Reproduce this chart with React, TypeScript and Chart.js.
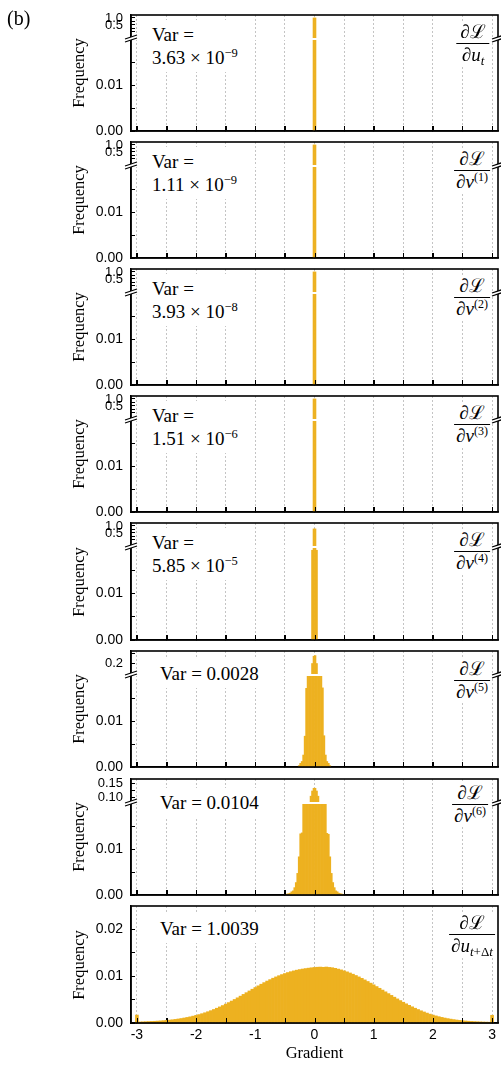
import React, { useEffect, useRef } from 'react';
import { Chart, registerables } from 'chart.js';

Chart.register(...registerables);

const SANS = "'Liberation Sans', Arial, sans-serif";
const SERIF = "'Liberation Serif', 'Times New Roman', serif";
const MATH = "'Liberation Serif', 'DejaVu Serif', serif";
const BAR_COLOR = '#EDB120';
const GRID_COLOR = '#c4c4c4';

// ---------- x axis ----------
const X_MIN = -3.1;
const X_MAX = 3.1;
const X_TICKS = [-3, -2.5, -2, -1.5, -1, -0.5, 0, 0.5, 1, 1.5, 2, 2.5, 3];
const X_TICK_LABELS = ['-3', '', '-2', '', '-1', '', '0', '', '1', '', '2', '', '3'];

// ---------- y axes ----------
const LOWER_MAX_BROKEN = 0.02;
const LOWER_TICKS_BROKEN = [0, 0.005, 0.01, 0.015];
const LOWER_LABELS_BROKEN = ['0.00', '', '0.01', ''];
const LOWER_MAX_FULL = 0.025;
const LOWER_TICKS_FULL = [0, 0.005, 0.01, 0.015, 0.02];
const LOWER_LABELS_FULL = ['0.00', '', '0.01', '', '0.02'];

const UPPER_A_RANGE = [-0.5, 1.21];
const UPPER_A_TICKS = [0, 0.25, 0.5, 0.75, 1.0];
const UPPER_A_LABELS = ['', '', '0.5', '', '1.0'];
const UPPER_B_RANGE = [0.145, 0.26];
const UPPER_B_TICKS = [0.2, 0.25];
const UPPER_B_LABELS = ['0.2', ''];
const UPPER_C_RANGE = [0.08, 0.168];
const UPPER_C_TICKS = [0.1, 0.125, 0.15];
const UPPER_C_LABELS = ['0.10', '', '0.15'];

// ---------- histogram data (bin start + bin width + frequencies) ----------
const FINE_BIN = 0.025;
const P1_START = -0.025;
const P1_FREQ = [1.0, 1.0];
const P2_START = -0.025;
const P2_FREQ = [1.0, 1.0];
const P3_START = -0.025;
const P3_FREQ = [1.0, 1.0];
const P4_START = -0.025;
const P4_FREQ = [1.0, 1.0];
const P5_START = -0.05;
const P5_FREQ = [0.0193, 0.79, 0.79, 0.0193];
const P6_START = -0.275;
const P6_FREQ = [
  0.0003, 0.0008, 0.0012, 0.0026, 0.0067, 0.0171, 0.045, 0.07, 0.125, 0.2, 0.235,
  0.238, 0.2, 0.125, 0.07, 0.045, 0.0172, 0.0068, 0.0026, 0.0012, 0.0008, 0.0003,
];
const P7_START = -0.5;
const P7_FREQ = [
  0.0001, 0.0002, 0.0003, 0.0004, 0.0007, 0.0009, 0.0016, 0.0027, 0.0047, 0.0083,
  0.0133, 0.0135, 0.024, 0.032, 0.042, 0.055, 0.07, 0.105, 0.124, 0.134,
  0.134, 0.124, 0.105, 0.07, 0.055, 0.042, 0.032, 0.024, 0.0134, 0.0132,
  0.0083, 0.0047, 0.0027, 0.0016, 0.0009, 0.0007, 0.0004, 0.0003, 0.0002, 0.0001,
];
const P8_BIN = 0.05;
const P8_START = -3.025;
const P8_FREQ = [
  0.0017, 0.00022, 0.00025, 0.00028, 0.00031, 0.00034, 0.00037, 0.00041, 0.00045, 0.0005,
  0.00056, 0.00062, 0.00069, 0.00077, 0.00086, 0.00096, 0.00107, 0.00119, 0.00132, 0.00147,
  0.00163, 0.0018, 0.00199, 0.00219, 0.00241, 0.00264, 0.00289, 0.00316, 0.00344, 0.00373,
  0.00404, 0.00436, 0.00469, 0.00503, 0.00538, 0.00574, 0.00611, 0.00648, 0.00685, 0.00722,
  0.00758, 0.00794, 0.00829, 0.00863, 0.00896, 0.00927, 0.00957, 0.00985, 0.01011, 0.01035,
  0.01057, 0.01078, 0.01097, 0.01114, 0.01129, 0.01142, 0.01153, 0.01163, 0.01172, 0.0118,
  0.01187,
  0.01192, 0.01195, 0.0119, 0.01196, 0.01188, 0.01181, 0.01168, 0.01152, 0.01135, 0.01115,
  0.01093, 0.01069, 0.01043, 0.01015, 0.00985, 0.00954, 0.00921, 0.00887, 0.00852, 0.00816,
  0.00779, 0.00742, 0.00704, 0.00666, 0.00628, 0.0059, 0.00552, 0.00515, 0.00479, 0.00444,
  0.0041, 0.00377, 0.00346, 0.00316, 0.00288, 0.00261, 0.00236, 0.00212, 0.0019, 0.0017,
  0.00152, 0.00135, 0.0012, 0.00106, 0.00094, 0.00083, 0.00073, 0.00064, 0.00056, 0.00049,
  0.00043, 0.00038, 0.00034, 0.0003, 0.00027, 0.00024, 0.00021, 0.00019, 0.00017, 0.00165,
];

// ---------- annotation text ----------
const VAR_MANTISSA = ['3.63', '1.11', '3.93', '1.51', '5.85'];
const VAR_EXPONENT = ['−9', '−9', '−8', '−6', '−5'];
const VAR_PLAIN = ['0.0028', '0.0104', '1.0039'];
const DERIV_VAR = ['u', 'v', 'v', 'v', 'v', 'v', 'v', 'u'];
const DERIV_SUB = ['t', '', '', '', '', '', '', 't+Δt'];
const DERIV_SUP = ['', '(1)', '(2)', '(3)', '(4)', '(5)', '(6)', ''];

// ---------- layout ----------
const PLOT_TOP = [15, 142, 269, 396, 523, 651, 779, 906];
const PLOT_BOTTOM = [131, 258, 385, 512, 640, 767, 895, 1023];
const FRAC_BAR_OFFSET = [28, 28, 28, 28, 28, 29, 24.5, 28];
const FRAC_CENTER_X = [473, 472, 472, 472, 472, 472, 470, 472];
const UPPER_H = 24;
const AXIS_W = 131;
const PAGE_W = 501;
const PAGE_H = 1067;

type Upper = { range: number[]; ticks: number[]; labels: string[] };
type PanelDef = {
  start: number;
  bin: number;
  freq: number[];
  lowerMax: number;
  lowerTicks: number[];
  lowerLabels: string[];
  upper?: Upper;
  showX: boolean;
};

const UA: Upper = { range: UPPER_A_RANGE, ticks: UPPER_A_TICKS, labels: UPPER_A_LABELS };
const UB: Upper = { range: UPPER_B_RANGE, ticks: UPPER_B_TICKS, labels: UPPER_B_LABELS };
const UC: Upper = { range: UPPER_C_RANGE, ticks: UPPER_C_TICKS, labels: UPPER_C_LABELS };

const broken = (start: number, freq: number[], upper: Upper): PanelDef => ({
  start, bin: FINE_BIN, freq, lowerMax: LOWER_MAX_BROKEN,
  lowerTicks: LOWER_TICKS_BROKEN, lowerLabels: LOWER_LABELS_BROKEN, upper, showX: false,
});

const PANELS: PanelDef[] = [
  broken(P1_START, P1_FREQ, UA),
  broken(P2_START, P2_FREQ, UA),
  broken(P3_START, P3_FREQ, UA),
  broken(P4_START, P4_FREQ, UA),
  broken(P5_START, P5_FREQ, UA),
  broken(P6_START, P6_FREQ, UB),
  broken(P7_START, P7_FREQ, UC),
  {
    start: P8_START, bin: P8_BIN, freq: P8_FREQ, lowerMax: LOWER_MAX_FULL,
    lowerTicks: LOWER_TICKS_FULL, lowerLabels: LOWER_LABELS_FULL, showX: true,
  },
];

const lookup = (ticks: number[], labels: string[]) => (v: any) => {
  const i = ticks.findIndex((t) => Math.abs(t - Number(v)) < 1e-9);
  return i >= 0 ? labels[i] : '';
};

const framePlugin = {
  id: 'frame',
  afterDatasetsDraw(chart: any) {
    const { ctx, chartArea: a, scales } = chart;
    ctx.save();
    // tick marks on top of the bars
    const xs = scales.x;
    ctx.strokeStyle = '#000';
    ctx.lineWidth = 1;
    xs.ticks.forEach((t: any) => {
      const px = Math.round(xs.getPixelForValue(t.value)) + 0.5;
      ctx.beginPath();
      ctx.moveTo(px, a.bottom);
      ctx.lineTo(px, a.bottom - 5);
      ctx.stroke();
    });
    const up = scales.yUp;
    if (up) {
      ctx.fillStyle = '#fff';
      ctx.fillRect(a.left, up.bottom - 1, a.right - a.left, 2);
    }
    ctx.lineWidth = 1.6;
    ctx.strokeStyle = '#000';
    ctx.strokeRect(a.left, a.top, a.right - a.left, a.bottom - a.top);
    if (up) {
      const yb = up.bottom;
      [a.left, a.right].forEach((x0: number) => {
        ctx.fillStyle = '#fff';
        ctx.beginPath();
        ctx.moveTo(x0 - 6, yb + 3);
        ctx.lineTo(x0 + 6, yb - 1);
        ctx.lineTo(x0 + 6, yb - 4);
        ctx.lineTo(x0 - 6, yb);
        ctx.closePath();
        ctx.fill();
        ctx.lineWidth = 1.2;
        ctx.beginPath();
        ctx.moveTo(x0 - 6, yb + 3);
        ctx.lineTo(x0 + 6, yb - 1);
        ctx.stroke();
        ctx.beginPath();
        ctx.moveTo(x0 - 6, yb);
        ctx.lineTo(x0 + 6, yb - 4);
        ctx.stroke();
      });
    }
    ctx.restore();
  },
};

function PanelChart({ idx }: { idx: number }) {
  const ref = useRef<HTMLCanvasElement>(null);
  const def = PANELS[idx];
  const pt = PLOT_TOP[idx];
  const pb = PLOT_BOTTOM[idx];
  const top = pt - 12;
  const bottom = def.showX ? PAGE_H : pb + 4;
  const height = bottom - top;

  useEffect(() => {
    if (!ref.current) return;
    const centers = def.freq.map((_, i) => def.start + (i + 0.5) * def.bin);
    const barStyle = {
      backgroundColor: BAR_COLOR,
      borderWidth: 0,
      barPercentage: 1,
      categoryPercentage: 1,
      grouped: false,
    };
    const datasets: any[] = [
      {
        ...barStyle,
        yAxisID: 'y',
        data: centers.map((x, i) => ({ x, y: Math.min(def.freq[i], def.lowerMax) })),
      },
    ];
    const plotH = pb - pt;
    const scales: any = {
      x: {
        type: 'linear',
        min: X_MIN,
        max: X_MAX,
        offset: false,
        afterBuildTicks: (s: any) => {
          s.ticks = X_TICKS.map((v) => ({ value: v }));
        },
        afterFit: (s: any) => {
          s.height = bottom - pb;
          s.paddingLeft = 0;
          s.paddingRight = 0;
        },
        grid: {
          offset: false,
          color: GRID_COLOR,
          lineWidth: 1,
          drawTicks: true,
          tickLength: -5,
          tickColor: '#000',
          tickWidth: 1,
        },
        border: { display: true, color: '#000', width: 1.5, dash: [2, 2] },
        ticks: {
          display: def.showX,
          autoSkip: false,
          maxRotation: 0,
          padding: 9,
          color: '#000',
          font: { family: SANS, size: 14 },
          callback: lookup(X_TICKS, X_TICK_LABELS),
        },
        title: {
          display: def.showX,
          text: 'Gradient',
          color: '#000',
          font: { family: SERIF, size: 16.5 },
          padding: { top: 0, bottom: 3 },
        },
      },
      y: {
        type: 'linear',
        position: 'left',
        min: 0,
        max: def.lowerMax,
        weight: 0,
        afterBuildTicks: (s: any) => {
          s.ticks = def.lowerTicks.map((v) => ({ value: v }));
        },
        afterFit: (s: any) => {
          s.width = AXIS_W;
          s.paddingTop = 0;
          s.paddingBottom = 0;
        },
        grid: { drawOnChartArea: false, drawTicks: true, tickLength: -4, tickColor: '#000', tickWidth: 1 },
        border: { color: '#000', width: 1.5 },
        ticks: {
          autoSkip: false,
          padding: 12,
          color: '#000',
          font: { family: SANS, size: 14 },
          callback: lookup(def.lowerTicks, def.lowerLabels),
        },
      },
    };
    if (def.upper) {
      const u = def.upper;
      scales.y.stack = 'v';
      scales.y.stackWeight = plotH - UPPER_H;
      scales.yUp = {
        type: 'linear',
        position: 'left',
        stack: 'v',
        stackWeight: UPPER_H,
        weight: 1,
        min: u.range[0],
        max: u.range[1],
        afterBuildTicks: (s: any) => {
          s.ticks = u.ticks.map((v) => ({ value: v }));
        },
        afterFit: (s: any) => {
          s.width = AXIS_W;
          s.paddingTop = 0;
          s.paddingBottom = 0;
        },
        grid: { drawOnChartArea: false, drawTicks: true, tickLength: -4, tickColor: '#000', tickWidth: 1 },
        border: { color: '#000', width: 1.5 },
        ticks: {
          autoSkip: false,
          padding: 12,
          color: '#000',
          font: { family: SANS, size: 13 },
          callback: lookup(u.ticks, u.labels),
        },
      };
      datasets.push({
        ...barStyle,
        yAxisID: 'yUp',
        data: centers
          .map((x, i) => ({ x, y: [u.range[0], def.freq[i]] }))
          .filter((_, i) => def.freq[i] > u.range[0] && def.freq[i] > def.lowerMax),
      });
    }

    const chart = new Chart(ref.current, {
      type: 'bar',
      data: { datasets },
      options: {
        animation: false,
        responsive: false,
        devicePixelRatio: 1,
        layout: { padding: { top: pt - top, right: PAGE_W - 498, left: 0, bottom: 0 } },
        plugins: { legend: { display: false }, tooltip: { enabled: false }, title: { display: false } },
        scales,
      } as any,
      plugins: [framePlugin],
    });
    return () => chart.destroy();
  }, [idx]);

  return (
    <canvas
      ref={ref}
      width={PAGE_W}
      height={height}
      style={{ position: 'absolute', left: 0, top, width: PAGE_W, height, display: 'block' }}
    />
  );
}

function Script({ text, size }: { text: string; size: number }) {
  return (
    <>
      {text.split('').map((c, i) =>
        /[a-z]/.test(c) ? (
          <i key={i}>{c}</i>
        ) : (
          <span key={i} style={{ fontSize: size }}>{c}</span>
        )
      )}
    </>
  );
}

function Fraction({ idx }: { idx: number }) {
  const barY = PLOT_TOP[idx] + FRAC_BAR_OFFSET[idx];
  const sub = DERIV_SUB[idx];
  const sup = DERIV_SUP[idx];
  return (
    <div
      style={{
        position: 'absolute',
        left: FRAC_CENTER_X[idx],
        top: barY - 22,
        transform: 'translateX(-50%)',
        display: 'flex',
        flexDirection: 'column',
        alignItems: 'center',
        background: '#fff',
        fontFamily: MATH,
        fontSize: 19,
        color: '#000',
        whiteSpace: 'nowrap',
      }}
    >
      <div style={{ lineHeight: '22px', padding: '0 4px' }}>∂ℒ</div>
      <div style={{ alignSelf: 'stretch', borderTop: '1.3px solid #000' }} />
      <div style={{ lineHeight: '22px', padding: '0 2px' }}>
        ∂<i>{DERIV_VAR[idx]}</i>
        {sub && (
          <sub style={{ fontSize: 13, lineHeight: 0, verticalAlign: '-4px' }}>
            <Script text={sub} size={13} />
          </sub>
        )}
        {sup && <sup style={{ fontSize: 12, lineHeight: 0, verticalAlign: '7px' }}>{sup}</sup>}
      </div>
    </div>
  );
}

function VarLabel({ idx }: { idx: number }) {
  const pt = PLOT_TOP[idx];
  const base: React.CSSProperties = {
    position: 'absolute',
    background: '#fff',
    padding: '3px 6px',
    fontFamily: SERIF,
    fontSize: 19,
    lineHeight: '23px',
    color: '#000',
    whiteSpace: 'nowrap',
  };
  if (idx < VAR_MANTISSA.length) {
    return (
      <div style={{ ...base, left: 146, top: pt + 5 }}>
        <div>Var =</div>
        <div>
          {VAR_MANTISSA[idx]} × 10
          <sup style={{ fontSize: 12.5, lineHeight: 0, verticalAlign: '7px' }}>{VAR_EXPONENT[idx]}</sup>
        </div>
      </div>
    );
  }
  const extra = idx === 6 ? 1 : 0;
  return (
    <div style={{ ...base, left: 154, top: pt + 8 + extra }}>
      Var = {VAR_PLAIN[idx - VAR_MANTISSA.length]}
    </div>
  );
}

export default function App() {
  return (
    <div style={{ position: 'absolute', left: 0, top: 0, width: PAGE_W, height: PAGE_H, background: '#fff', overflow: 'hidden' }}>
      {PANELS.map((_, i) => (
        <PanelChart key={'c' + i} idx={i} />
      ))}
      {PANELS.map((_, i) => (
        <React.Fragment key={'t' + i}>
          <VarLabel idx={i} />
          <Fraction idx={i} />
          <div
            style={{
              position: 'absolute',
              left: 79,
              top: (PLOT_TOP[i] + PLOT_BOTTOM[i]) / 2,
              transform: 'translate(-50%, -50%) rotate(-90deg)',
              fontFamily: SERIF,
              fontSize: 16.5,
              lineHeight: 1,
              whiteSpace: 'nowrap',
              color: '#000',
            }}
          >
            Frequency
          </div>
        </React.Fragment>
      ))}
      <div style={{ position: 'absolute', left: 7, top: 8, fontFamily: SERIF, fontSize: 20, lineHeight: '20px', color: '#000' }}>
        (b)
      </div>
    </div>
  );
}
